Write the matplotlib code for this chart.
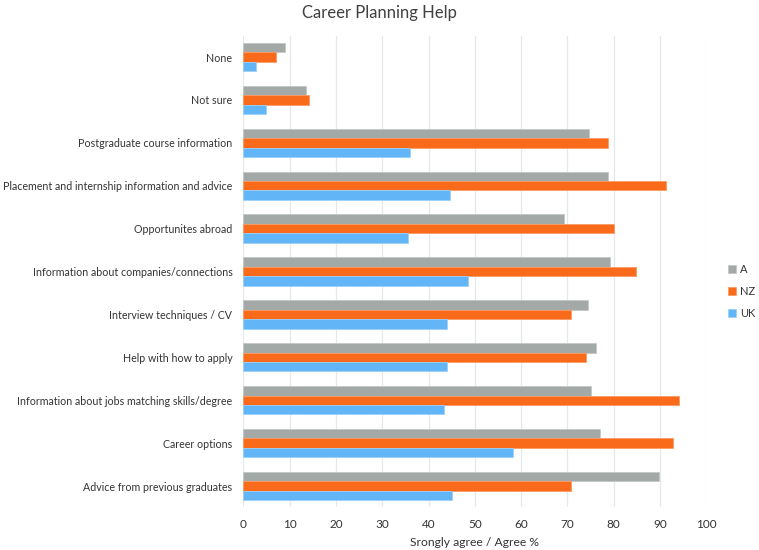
import matplotlib
matplotlib.use("Agg")
import matplotlib.pyplot as plt
import numpy as np

categories = [
    "None",
    "Not sure",
    "Postgraduate course information",
    "Placement and internship information and advice",
    "Opportunites abroad",
    "Information about companies/connections",
    "Interview techniques / CV",
    "Help with how to apply",
    "Information about jobs matching skills/degree",
    "Career options",
    "Advice from previous graduates",
]
series_names = ["A", "NZ", "UK"]
vals_A = [9.0, 13.6, 74.6, 78.9, 69.4, 79.2, 74.5, 76.3, 75.2, 77.0, 89.8]
vals_NZ = [7.0, 14.2, 78.9, 91.3, 80.1, 84.9, 70.9, 74.0, 94.2, 92.9, 70.9]
vals_UK = [2.6, 4.8, 36.0, 44.6, 35.5, 48.6, 44.1, 44.1, 43.3, 58.2, 45.0]
xticks = [0, 10, 20, 30, 40, 50, 60, 70, 80, 90, 100]

colors = ["#A3A9A7", "#F96A1B", "#62B5F6"]
edges = ["#C4C9C7", "#FB9A63", "#9DD0F8"]

plt.rcParams['font.family'] = ['Lato', 'DejaVu Sans']

fig = plt.figure(figsize=(7.59, 5.50), dpi=100)
ax = fig.add_axes([0.3208, 0.0773, 0.6094, 0.858])

n = len(categories)
y = np.arange(n)
h = 0.22
for i, (vals, name) in enumerate(zip([vals_A, vals_NZ, vals_UK], series_names)):
    ax.barh(y + (i - 1) * h, vals, height=h, color=colors[i], edgecolor=edges[i],
            linewidth=0.6, label=name, zorder=3)

ax.set_ylim(n - 0.5, -0.5)
ax.set_xlim(0, 100)
ax.set_yticks(y)
ax.set_yticklabels(categories, fontsize=7.7, color="#333333")
ax.set_xticks(xticks)
ax.set_xticklabels([str(t) for t in xticks], fontsize=8.5, color="#333333")
ax.tick_params(axis='y', length=0, pad=8)
ax.tick_params(axis='x', length=0, pad=8)
ax.xaxis.grid(True, color="#E4E8EC", linewidth=0.9, zorder=0)
for s in ax.spines.values():
    s.set_visible(False)
ax.set_xlabel("Srongly agree / Agree %", fontsize=8.7, color="#333333", labelpad=5)

fig.text(0.5, 0.977, "Career Planning Help", ha="center", va="center",
         fontsize=12, color="#404040")

leg = fig.legend(loc="center left", bbox_to_anchor=(0.953, 0.47), frameon=False,
                 fontsize=8, handlelength=0.7, handleheight=0.7, labelspacing=1.0,
                 handletextpad=0.4, borderaxespad=0)
for t in leg.get_texts():
    t.set_color("#333333")

fig.savefig("out.png", dpi=100)
